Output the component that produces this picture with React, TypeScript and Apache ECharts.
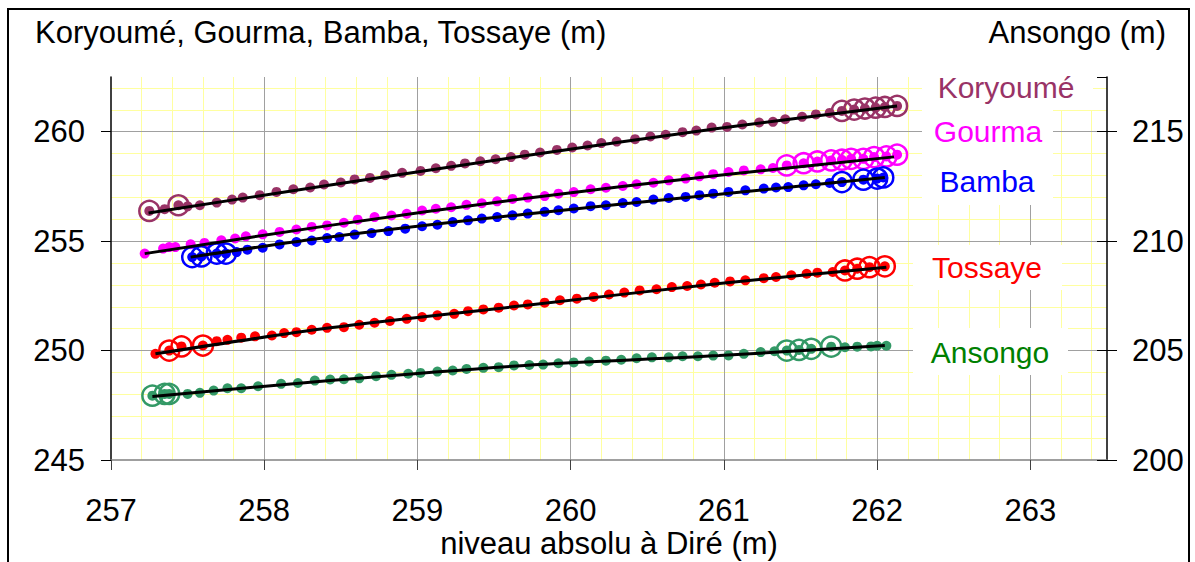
import React, { useEffect, useRef } from "react";
import * as echarts from "echarts";

const FONT = "'Liberation Sans', Arial, Helvetica, sans-serif";

// ---- data (x = niveau absolu à Diré, y = station level) ----
const koryoumeX = [257.25, 257.35, 257.44, 257.5, 257.58, 257.69, 257.79, 257.86, 257.97, 258.08, 258.19, 258.3, 258.39,
  258.5, 258.59, 258.69, 258.79, 258.9, 259.02, 259.12, 259.22, 259.31, 259.41, 259.51, 259.61, 259.7,
  259.8, 259.91, 260.01, 260.11, 260.2, 260.3, 260.42, 260.52, 260.62, 260.73, 260.82, 260.92,
  261.02, 261.12, 261.23, 261.32, 261.4, 261.51, 261.6, 261.69, 261.77, 261.85, 261.92, 261.99, 262.05, 262.13];
const koryoumeY = [256.38, 256.46, 256.64, 256.59, 256.64, 256.76, 256.9, 256.99, 257.1, 257.25, 257.37, 257.45, 257.59,
  257.68, 257.82, 257.89, 258.01, 258.12, 258.21, 258.33, 258.44, 258.55, 258.65, 258.74, 258.84, 258.95,
  259.05, 259.17, 259.28, 259.37, 259.48, 259.55, 259.66, 259.78, 259.86, 259.98, 260.05, 260.19,
  260.22, 260.33, 260.42, 260.45, 260.57, 260.68, 260.79, 260.86, 260.95, 261.01, 261.06, 261.1, 261.13, 261.18];
const koryoumeCircled = [0, 2, 46, 47, 48, 49, 50, 51];
const koryoumeTrendX = [257.245, 258.41, 259.69, 260.96, 262.13];
const koryoumeTrendY = [256.29, 257.54, 258.89, 260.15, 261.18];

const gourmaX = [257.22, 257.34, 257.38, 257.42, 257.52, 257.61, 257.72, 257.81, 257.88, 257.99, 258.1, 258.21, 258.31, 258.41,
  258.52, 258.61, 258.72, 258.83, 258.93, 259.03, 259.12, 259.22, 259.32, 259.42, 259.52, 259.62,
  259.72, 259.83, 259.92, 260.02, 260.13, 260.23, 260.34, 260.43, 260.54, 260.64, 260.75, 260.84, 260.93,
  261.03, 261.13, 261.24, 261.32, 261.41, 261.52, 261.61, 261.7, 261.77, 261.83, 261.91, 261.98, 262.06, 262.13];
const gourmaY = [254.43, 254.66, 254.73, 254.73, 254.86, 254.92, 255.04, 255.12, 255.22, 255.31, 255.42, 255.53, 255.65, 255.72,
  255.84, 255.98, 256.1, 256.17, 256.25, 256.4, 256.48, 256.55, 256.66, 256.73, 256.82, 256.93,
  256.99, 257.06, 257.17, 257.24, 257.37, 257.44, 257.52, 257.6, 257.67, 257.78, 257.86, 257.96, 258.06,
  258.16, 258.23, 258.28, 258.34, 258.46, 258.56, 258.64, 258.69, 258.72, 258.76, 258.76, 258.84, 258.87, 258.95];
const gourmaCircled = [43, 44, 45, 46, 47, 48, 49, 50, 51, 52];
const gourmaTrendX = [257.22, 258.43, 259.7, 260.97, 262.11];
const gourmaTrendY = [254.43, 255.72, 256.95, 258.01, 258.85];

const bambaX = [257.53, 257.59, 257.69, 257.75, 257.82, 257.89, 257.99, 258.1, 258.21, 258.31, 258.41,
  258.49, 258.59, 258.7, 258.81, 258.92, 259.03, 259.13, 259.23, 259.33, 259.42, 259.52, 259.62,
  259.72, 259.83, 259.92, 260.02, 260.13, 260.23, 260.34, 260.43, 260.54, 260.64, 260.75, 260.84, 260.93,
  261.03, 261.14, 261.26, 261.34, 261.42, 261.52, 261.6, 261.69, 261.77, 261.91, 262.0, 262.04];
const bambaY = [254.27, 254.3, 254.43, 254.43, 254.5, 254.61, 254.7, 254.85, 254.96, 255.03, 255.14,
  255.19, 255.3, 255.37, 255.46, 255.57, 255.68, 255.75, 255.87, 255.95, 256.03, 256.1, 256.18,
  256.26, 256.34, 256.41, 256.49, 256.6, 256.64, 256.74, 256.79, 256.9, 256.97, 257.02, 257.1, 257.17,
  257.25, 257.32, 257.4, 257.45, 257.47, 257.55, 257.6, 257.66, 257.7, 257.81, 257.86, 257.91];
const bambaCircled = [0, 1, 2, 3, 44, 45, 46, 47];
const bambaTrendX = [257.52, 258.43, 259.7, 260.97, 262.05];
const bambaTrendY = [254.27, 255.19, 256.23, 257.14, 257.91];

const tossayeX = [257.29, 257.38, 257.46, 257.6, 257.69, 257.76, 257.85, 257.94, 258.05, 258.13, 258.21, 258.31, 258.41,
  258.52, 258.62, 258.72, 258.82, 258.93, 259.03, 259.13, 259.24, 259.33, 259.43, 259.53, 259.63,
  259.72, 259.83, 259.93, 260.04, 260.15, 260.25, 260.35, 260.45, 260.56, 260.66, 260.76, 260.85, 260.94,
  261.04, 261.14, 261.26, 261.34, 261.44, 261.54, 261.61, 261.71, 261.79, 261.87, 261.95, 262.05];
const tossayeY = [249.85, 250.0, 250.19, 250.23, 250.43, 250.49, 250.59, 250.65, 250.69, 250.8, 250.84, 250.95, 251.04,
  251.07, 251.18, 251.27, 251.35, 251.45, 251.53, 251.61, 251.68, 251.8, 251.88, 251.96, 252.06,
  252.11, 252.19, 252.3, 252.37, 252.45, 252.56, 252.65, 252.75, 252.8, 252.9, 252.95, 253.02, 253.1,
  253.16, 253.21, 253.31, 253.36, 253.44, 253.51, 253.56, 253.59, 253.66, 253.74, 253.81, 253.85];
const tossayeCircled = [1, 2, 3, 46, 47, 48, 49];
const tossayeTrendX = [257.29, 258.43, 259.7, 260.97, 262.06];
const tossayeTrendY = [249.85, 251.04, 252.06, 253.06, 253.81];

// Ansongo is read on the right-hand axis
const ansongoX = [257.27, 257.35, 257.38, 257.5, 257.58, 257.67, 257.76, 257.85, 257.96, 258.11, 258.22, 258.33, 258.43,
  258.52, 258.62, 258.73, 258.83, 258.94, 259.02, 259.13, 259.23, 259.32, 259.43, 259.53, 259.63,
  259.73, 259.82, 259.92, 260.02, 260.12, 260.23, 260.33, 260.43, 260.53, 260.64, 260.73, 260.83, 260.93,
  261.03, 261.13, 261.24, 261.33, 261.41, 261.49, 261.57, 261.7, 261.79, 261.87, 261.96, 262.0, 262.06];
const ansongoY = [202.94, 203.02, 203.02, 203.02, 203.07, 203.17, 203.28, 203.28, 203.37, 203.48, 203.52, 203.63, 203.68,
  203.69, 203.73, 203.83, 203.89, 203.94, 203.98, 204.04, 204.09, 204.16, 204.21, 204.24, 204.32,
  204.34, 204.36, 204.42, 204.46, 204.5, 204.54, 204.58, 204.65, 204.69, 204.69, 204.74, 204.74, 204.77,
  204.78, 204.85, 204.93, 204.97, 205.0, 205.03, 205.08, 205.18, 205.15, 205.18, 205.19, 205.22, 205.22];
const ansongoCircled = [0, 1, 2, 42, 43, 44, 45];
const ansongoTrendX = [257.27, 258.43, 259.7, 260.97, 262.05];
const ansongoTrendY = [202.9, 203.63, 204.32, 204.77, 205.23];

const xTicks = [257, 263.5];
const leftRange = [245, 262.5];
const rightRange = [200, 217.5];

const leftTitle = "Koryoumé, Gourma, Bamba, Tossaye (m)";
const rightTitle = "Ansongo (m)";
const xTitle = "niveau absolu à Diré (m)";

type Station = {
  name: string; x: number[]; y: number[]; circled: number[];
  tx: number[]; ty: number[]; color: string; labelColor: string; axis: number;
};

const stations: Station[] = [
  { name: "Koryoumé", x: koryoumeX, y: koryoumeY, circled: koryoumeCircled, tx: koryoumeTrendX, ty: koryoumeTrendY, color: "#993366", labelColor: "#993366", axis: 1 },
  { name: "Gourma", x: gourmaX, y: gourmaY, circled: gourmaCircled, tx: gourmaTrendX, ty: gourmaTrendY, color: "#ff00ff", labelColor: "#ff00ff", axis: 1 },
  { name: "Bamba", x: bambaX, y: bambaY, circled: bambaCircled, tx: bambaTrendX, ty: bambaTrendY, color: "#0000ff", labelColor: "#0000ff", axis: 1 },
  { name: "Tossaye", x: tossayeX, y: tossayeY, circled: tossayeCircled, tx: tossayeTrendX, ty: tossayeTrendY, color: "#ff0000", labelColor: "#ff0000", axis: 1 },
  { name: "Ansongo", x: ansongoX, y: ansongoY, circled: ansongoCircled, tx: ansongoTrendX, ty: ansongoTrendY, color: "#339966", labelColor: "#008000", axis: 2 },
];

// label boxes: [x, y, w, h, textCenterX, textCenterY]
const labelBoxes: Record<string, number[]> = {
  "Koryoumé": [922, 77, 171, 33, 1006, 87],
  "Gourma": [922, 110, 131, 45, 988, 131],
  "Bamba": [922, 155, 131, 50, 987, 181],
  "Tossaye": [913, 245, 149, 45, 987, 267],
  "Ansongo": [913, 328, 155, 47, 990, 352],
};

export default function App() {
  const ref = useRef<HTMLDivElement>(null);
  useEffect(() => {
    if (!ref.current) return;
    const chart = echarts.init(ref.current, null, { renderer: "svg" });
    const series: any[] = [];
    stations.forEach((s) => {
      series.push({
        name: s.name, type: "scatter", xAxisIndex: 1, yAxisIndex: s.axis,
        symbol: "circle", symbolSize: 10, z: 3,
        itemStyle: { color: s.color, opacity: 1 },
        data: s.x.map((v, i) => [v, s.y[i]]),
      });
      series.push({
        name: s.name + " (cercles)", type: "scatter", xAxisIndex: 1, yAxisIndex: s.axis,
        symbol: "circle", symbolSize: 20, z: 4,
        itemStyle: { color: "rgba(0,0,0,0)", borderColor: s.color, borderWidth: 2.5, opacity: 1 },
        data: s.circled.map((i) => [s.x[i], s.y[i]]),
      });
      series.push({
        name: s.name + " (tendance)", type: "line", xAxisIndex: 1, yAxisIndex: s.axis,
        showSymbol: false, symbol: "none", smooth: 0.3, z: 5,
        lineStyle: { color: "#000", width: 3 },
        data: s.tx.map((v, i) => [v, s.ty[i]]),
      });
    });

    const graphics: any[] = [
      { type: "rect", shape: { x: 8, y: 9, width: 1181, height: 600 }, style: { fill: "none", stroke: "#000", lineWidth: 2 }, z: 100 },
      { type: "text", x: 35, y: 32, z: 100, style: { text: leftTitle, font: `31px ${FONT}`, fill: "#000", textAlign: "left", textVerticalAlign: "middle" } },
      { type: "text", x: 1166, y: 32, z: 100, style: { text: rightTitle, font: `31px ${FONT}`, fill: "#000", textAlign: "right", textVerticalAlign: "middle" } },
    ];
    stations.forEach((s) => {
      const b = labelBoxes[s.name];
      graphics.push({ type: "rect", shape: { x: b[0], y: b[1], width: b[2], height: b[3] }, style: { fill: "#fff" }, z: 90 });
      graphics.push({ type: "text", x: b[4], y: b[5], z: 91, style: { text: s.name, font: `30px ${FONT}`, fill: s.labelColor, textAlign: "center", textVerticalAlign: "middle" } });
    });

    const hidden = { axisLine: { show: false }, axisTick: { show: false }, axisLabel: { show: false } };
    chart.setOption({
      animation: false,
      textStyle: { fontFamily: FONT },
      grid: { left: 111, right: 88, top: 77, bottom: 102, containLabel: false, outerBoundsMode: "none" },
      xAxis: [
        {
          type: "value", position: "bottom", min: xTicks[0], max: xTicks[1], interval: 0.2, z: 0, ...hidden,
          splitLine: { show: true, showMinLine: false, showMaxLine: false, lineStyle: { color: "#ffffa0", width: 1 } },
        },
        {
          type: "value", position: "bottom", min: xTicks[0], max: xTicks[1], interval: 1, z: 1,
          name: xTitle, nameLocation: "middle", nameGap: 68, nameMoveOverlap: false,
          nameTextStyle: { fontSize: 31, lineHeight: 30, color: "#000", fontFamily: FONT },
          axisLine: { show: true, onZero: false, lineStyle: { color: "#808080", width: 1.5 } },
          axisTick: { show: true, inside: false, length: 10, lineStyle: { color: "#404040", width: 1 } },
          axisLabel: { show: true, fontSize: 31, color: "#000", margin: 35, showMaxLabel: false, fontFamily: FONT },
          splitLine: { show: true, showMinLine: false, showMaxLine: false, lineStyle: { color: "#a0a0a0", width: 1 } },
        },
      ],
      yAxis: [
        {
          type: "value", position: "left", min: leftRange[0], max: leftRange[1], interval: 1, z: 0, ...hidden,
          splitLine: { show: true, showMinLine: false, showMaxLine: false, lineStyle: { color: "#ffffa0", width: 1 } },
        },
        {
          type: "value", position: "left", min: leftRange[0], max: leftRange[1], interval: 5, z: 1,
          axisLine: { show: true, onZero: false, lineStyle: { color: "#000", width: 1.5 } },
          axisTick: { show: true, inside: false, length: 10, lineStyle: { color: "#000", width: 1 } },
          axisLabel: { show: true, fontSize: 31, color: "#000", margin: 26, showMaxLabel: false, fontFamily: FONT },
          splitLine: { show: true, showMinLine: false, showMaxLine: false, lineStyle: { color: "#a0a0a0", width: 1 } },
        },
        {
          type: "value", position: "right", min: rightRange[0], max: rightRange[1], interval: 5, z: 1,
          axisLine: { show: true, onZero: false, lineStyle: { color: "#000", width: 1.5 } },
          axisTick: { show: true, inside: false, length: 10, lineStyle: { color: "#000", width: 1 } },
          axisLabel: { show: true, fontSize: 31, color: "#000", margin: 25, showMaxLabel: false, fontFamily: FONT },
          splitLine: { show: false },
        },
        {
          type: "value", position: "right", min: rightRange[0], max: rightRange[1], interval: 5, z: 1,
          axisLine: { show: false },
          axisTick: { show: true, inside: true, length: 10, lineStyle: { color: "#000", width: 1 } },
          axisLabel: { show: false },
          splitLine: { show: false },
        },
      ],
      graphic: { elements: graphics },
      series,
    });
    return () => chart.dispose();
  }, []);
  return (
    <div
      ref={ref}
      style={{ position: "absolute", left: 0, top: 0, width: 1195, height: 562, background: "#fff" }}
    />
  );
}
